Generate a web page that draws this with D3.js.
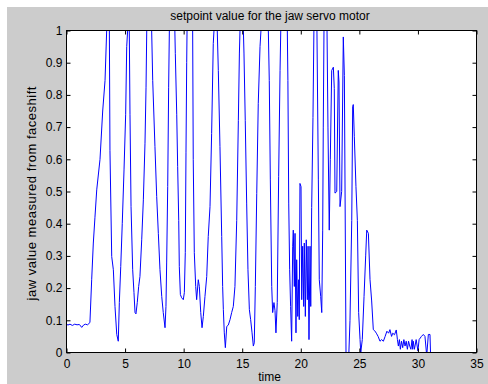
<!DOCTYPE html>
<html>
<head>
<meta charset="utf-8">
<script src="https://cdn.jsdelivr.net/npm/d3@7"></script>
<style>
  html, body { margin: 0; padding: 0; background: #fff; }
  svg { display: block; font-family: "Liberation Sans", Arial, sans-serif; }
</style>
</head>
<body>
<div id="chart"></div>
<script>
// time (s) and jaw value
const time = [
  0, 0.1, 0.3, 0.5, 0.7, 0.9, 1.1, 1.3, 1.45, 1.6, 1.8, 2.0, 2.15, 2.29, 2.43, 2.58, 2.86, 3.09, 3.29, 3.43, 3.55, 3.66,
  3.71, 3.86, 4.0, 4.14, 4.29, 4.42, 4.51, 4.63, 4.76, 4.91, 5.05, 5.14, 5.22, 5.29, 5.36,
  5.42, 5.51, 5.65, 5.76, 5.85, 5.93, 6.04, 6.16, 6.27, 6.42, 6.56, 6.70, 6.79, 6.85, 7.05, 7.27,
  7.36, 7.55, 7.70, 7.84, 7.98, 8.13, 8.26, 8.41, 8.49, 8.55, 8.64, 8.72, 8.78, 9.0, 9.25,
  9.29, 9.41, 9.49, 9.58, 9.63, 9.72, 9.83, 9.97, 10.06, 10.14, 10.2, 10.26, 10.29, 10.53, 10.77,
  10.82, 10.91, 11.03, 11.11, 11.25, 11.34, 11.46, 11.57, 11.68, 11.82, 11.97, 12.1, 12.25, 12.39, 12.53, 12.59, 12.73, 12.87,
  12.96, 13.1, 13.25, 13.33, 13.39, 13.47, 13.56, 13.68, 13.81, 13.96, 14.1, 14.24, 14.38, 14.53, 14.67, 14.76, 14.81, 14.95, 15.1,
  15.15, 15.26, 15.38, 15.49, 15.61, 15.72, 15.84, 15.95, 16.03, 16.12, 16.24, 16.37, 16.52, 16.6, 16.9, 17.23,
  17.31, 17.4, 17.52, 17.6, 17.71, 17.8, 17.88, 17.99, 18.11, 18.23, 18.29, 18.57, 18.85,
  18.9, 18.97, 19.05, 19.13, 19.22, 19.31, 19.36, 19.45, 19.51, 19.59, 19.65, 19.74, 19.82, 19.87, 19.93,
  20.02, 20.08, 20.16, 20.25, 20.30, 20.39, 20.47, 20.56, 20.62, 20.7, 20.79, 20.85, 20.93, 21.04, 21.12, 21.26, 21.38,
  21.50, 21.58, 21.70, 21.79, 21.87, 21.92, 21.98, 22.11, 22.24, 22.32, 22.43, 22.52, 22.64, 22.78, 22.86, 22.92,
  23.07, 23.20, 23.26, 23.35, 23.49, 23.63, 23.72, 23.86, 23.94, 24.06, 24.2, 24.35, 24.43, 24.48, 24.57, 24.71, 24.83, 24.94,
  25.06, 25.12, 25.25, 25.4, 25.54, 25.63, 25.77, 25.91, 26.05, 26.19, 26.3, 26.45, 26.6, 26.76, 26.9, 27.05, 27.2, 27.35,
  27.5, 27.61, 27.75, 27.85, 28.0, 28.15, 28.25, 28.33, 28.42, 28.5, 28.6, 28.7, 28.8, 28.9, 29.0, 29.1, 29.2, 29.3,
  29.4, 29.5, 29.55, 29.6, 29.7, 29.85, 30.0, 30.1, 30.3, 30.46, 30.6, 30.75, 30.89, 31.03, 31.09
];
const jaw = [
  0.09, 0.085, 0.088, 0.084, 0.088, 0.086, 0.087, 0.078, 0.085, 0.088, 0.086, 0.093, 0.226, 0.34, 0.42, 0.505, 0.6, 0.75, 0.845, 1.0, 1.1, 1.0,
  0.628, 0.298, 0.257, 0.143, 0.056, 0.035, 0.155, 0.267, 0.40, 0.567, 0.74, 0.95, 1.0, 1.1, 1.0,
  0.74, 0.453, 0.257, 0.186, 0.124, 0.12, 0.155, 0.205, 0.236, 0.35, 0.474, 0.65, 0.824, 1.0, 1.15, 1.0,
  0.845, 0.64, 0.484, 0.37, 0.257, 0.174, 0.124, 0.077, 0.143, 0.278, 0.515, 0.824, 1.0, 1.15, 1.0,
  0.928, 0.74, 0.577, 0.41, 0.267, 0.18, 0.17, 0.164, 0.186, 0.31, 0.62, 0.9, 1.0, 1.1, 1.0,
  0.6, 0.31, 0.205, 0.164, 0.226, 0.205, 0.124, 0.077, 0.112, 0.174, 0.236, 0.36, 0.453, 0.68, 0.96, 1.0, 1.1, 1.0,
  0.876, 0.64, 0.36, 0.205, 0.133, 0.061, 0.015, 0.081, 0.085, 0.102, 0.124, 0.143, 0.205, 0.41, 0.72, 0.93, 1.0, 1.1, 1.0,
  0.93, 0.72, 0.464, 0.257, 0.133, 0.102, 0.061, 0.02, 0.03, 0.205, 0.494, 0.773, 0.95, 1.0, 1.15, 1.0,
  0.845, 0.536, 0.205, 0.124, 0.155, 0.13, 0.061, 0.155, 0.546, 0.876, 1.0, 1.15, 1.0,
  0.845, 0.464, 0.257, 0.143, 0.035, 0.33, 0.38, 0.205, 0.37, 0.061, 0.288, 0.112, 0.226, 0.102, 0.525,
  0.515, 0.164, 0.33, 0.143, 0.34, 0.112, 0.35, 0.164, 0.33, 0.04, 0.33, 0.143, 0.45, 0.73, 1.0, 1.1, 1.0,
  0.536, 0.226, 0.174, 0.124, 0.38, 0.7, 1.0, 1.1, 1.0, 0.7, 0.38, 0.6, 0.876, 0.886, 0.82, 0.495,
  0.50, 0.876, 0.84, 0.453, 0.5, 0.98, 0.86, 0.0, -0.05, -0.05, 0.1, 0.41, 0.763, 0.77, 0.67, 0.515, 0.41, 0.124,
  0.04, 0.0, 0.04, 0.174, 0.3, 0.38, 0.37, 0.226, 0.16, 0.071, 0.068, 0.06, 0.05, 0.035, 0.04, 0.035, 0.05, 0.066,
  0.06, 0.071, 0.05, 0.06, 0.055, 0.07, 0.04, 0.02, 0.04, 0.01, 0.035, 0.015, 0.04, 0.02, 0.035, 0.01, 0.035, 0.02,
  0.01, 0.04, 0.01, 0.035, 0.01, 0.04, 0.005, 0.04, 0.05, 0.056, 0.05, -0.01, 0.056, 0.056, -0.02
];
const xTicks = [0, 5, 10, 15, 20, 25, 30, 35];
const yTicks = [0, 0.1, 0.2, 0.3, 0.4, 0.5, 0.6, 0.7, 0.8, 0.9, 1];

const titleText = 'setpoint value for the jaw servo motor';
const xLabel = 'time';
const yLabel = 'jaw value measured from faceshift';

const width = 488, height = 384;
const plotLeft = 66.5, plotRight = 476.5, plotTop = 30.5, plotBottom = 352.5;

const svg = d3.select('#chart').append('svg')
  .attr('width', width)
  .attr('height', height);

// figure background
svg.append('rect')
  .attr('x', 7).attr('y', 7)
  .attr('width', width - 7).attr('height', height - 7)
  .attr('fill', '#cccccc');

svg.append('rect')
  .attr('x', plotLeft).attr('y', plotTop)
  .attr('width', plotRight - plotLeft).attr('height', plotBottom - plotTop)
  .attr('fill', '#fff');

const x = d3.scaleLinear().domain([0, 35]).range([plotLeft, plotRight]);
const y = d3.scaleLinear().domain([0, 1]).range([plotBottom, plotTop]);

svg.append('clipPath').attr('id', 'clip')
  .append('rect')
  .attr('x', plotLeft).attr('y', plotTop)
  .attr('width', plotRight - plotLeft).attr('height', plotBottom - plotTop);

const line = d3.line()
  .x((d, i) => x(time[i]))
  .y(d => y(d));

svg.append('path')
  .datum(jaw)
  .attr('clip-path', 'url(#clip)')
  .attr('fill', 'none')
  .attr('stroke', '#0000ff')
  .attr('stroke-width', 1)
  .attr('d', line);

const fmt = d => String(+d.toFixed(1));

const gx = svg.append('g')
  .attr('transform', 'translate(0,' + plotBottom + ')')
  .call(d3.axisBottom(x).tickValues(xTicks).tickSizeInner(-4).tickSizeOuter(0).tickPadding(6.5).tickFormat(fmt));
const gxt = svg.append('g')
  .attr('transform', 'translate(0,' + plotTop + ')')
  .call(d3.axisTop(x).tickValues(xTicks).tickSizeInner(-4).tickSizeOuter(0).tickFormat(''));
const gy = svg.append('g')
  .attr('transform', 'translate(' + plotLeft + ',0)')
  .call(d3.axisLeft(y).tickValues(yTicks).tickSizeInner(-4).tickSizeOuter(0).tickPadding(4).tickFormat(fmt));
const gyr = svg.append('g')
  .attr('transform', 'translate(' + plotRight + ',0)')
  .call(d3.axisRight(y).tickValues(yTicks).tickSizeInner(-4).tickSizeOuter(0).tickFormat(''));

[gx, gxt, gy, gyr].forEach(g => {
  g.select('.domain').remove();
  g.selectAll('line').attr('stroke', '#000');
  g.selectAll('text')
    .attr('fill', '#000')
    .style('font-size', '12px')
    .style('font-family', '"Liberation Sans", Arial, sans-serif');
});

// axes box
svg.append('rect')
  .attr('x', plotLeft).attr('y', plotTop)
  .attr('width', plotRight - plotLeft).attr('height', plotBottom - plotTop)
  .attr('fill', 'none')
  .attr('stroke', '#000');

svg.append('text')
  .attr('x', 270).attr('y', 19.5)
  .attr('text-anchor', 'middle')
  .style('font-size', '12px')
  .attr('fill', '#000')
  .text(titleText);

svg.append('text')
  .attr('x', (plotLeft + plotRight) / 2 - 2).attr('y', 381)
  .attr('text-anchor', 'middle')
  .style('font-size', '12px')
  .attr('fill', '#000')
  .text(xLabel);

svg.append('text')
  .attr('transform', 'translate(36,' + ((plotTop + plotBottom) / 2 + 2) + ') rotate(-90)')
  .attr('text-anchor', 'middle')
  .style('font-size', '13px')
  .attr('textLength', 214)
  .attr('lengthAdjust', 'spacing')
  .attr('fill', '#000')
  .text(yLabel);
</script>
</body>
</html>
